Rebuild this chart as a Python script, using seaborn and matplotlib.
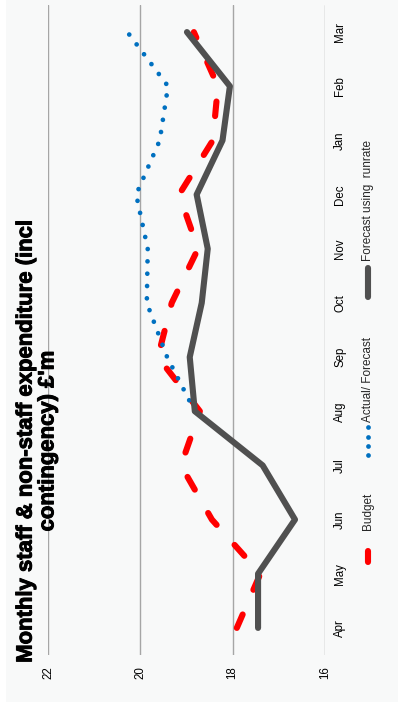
import numpy as np
import pandas as pd
import matplotlib
matplotlib.use("Agg")
import matplotlib.pyplot as plt
import matplotlib.patheffects as pe
from matplotlib import font_manager
import seaborn as sns
from matplotlib.lines import Line2D
from matplotlib.patches import Rectangle

# ---------------- data ----------------
months = ["Apr", "May", "Jun", "Jul", "Aug", "Sep", "Oct", "Nov", "Dec", "Jan", "Feb", "Mar"]
budget = [17.91, 17.40, 18.45, 19.12, 18.71, 19.62, 19.32, 18.75, 19.16, 18.43, 18.32, 18.84]
actual_forecast = [np.nan, np.nan, np.nan, np.nan, 18.82, 19.42, 19.86, 19.84, 20.09, 19.58, 19.40, 20.28]
runrate = [17.45, 17.45, 16.65, 17.35, 18.82, 18.93, 18.67, 18.54, 18.78, 18.22, 18.06, 18.99]
value_ticks = [16, 18, 20, 22]
legend_labels = ["Budget", "Actual/ Forecast", "Forecast using  runrate"]
title = "Monthly staff & non-staff expenditure (incl\ncontingency) \u00a3'm"

# ---------------- style ----------------
sns.set_style("white")
plt.rcParams["font.family"] = ["Liberation Sans", "DejaVu Sans"]

# pick a family that really has a bold face for the title
title_family = "Liberation Sans"
for fam in ["Liberation Sans", "Roboto", "Noto Sans", "Open Sans", "DejaVu Sans"]:
    try:
        path = font_manager.findfont(font_manager.FontProperties(family=fam, weight="bold"),
                                     fallback_to_default=False)
        if "bold" in path.lower():
            title_family = fam
            break
    except Exception:
        pass

W, H = 398, 707
BG = "#f8f9f9"
RED = "#ff0000"
BLUE = "#0070c0"
GRAY = "#505050"
GRID = "#a6a6a6"

def fx(px):
    return px / W

def fy(py):
    return 1 - py / H

fig = plt.figure(figsize=(W / 100, H / 100), dpi=100)
fig.patch.set_facecolor("white")
fig.add_artist(Rectangle((fx(6), fy(702)), 1 - fx(6), 702 / H,
                         transform=fig.transFigure, facecolor=BG, edgecolor="none", zorder=0))

ax = fig.add_axes([fx(48), fy(655), (325 - 48) / W, (655 - 5) / H])
ax.set_facecolor(BG)

df = pd.DataFrame({
    "idx": np.arange(len(months)),
    "month": months,
    "budget": budget,
    "actual": actual_forecast,
    "runrate": runrate,
})

sns.lineplot(data=df, x="budget", y="idx", orient="y", ax=ax, color=RED,
             lw=4.4, linestyle=(0, (2.4, 4.4)), dash_capstyle="round", zorder=3)
sns.lineplot(data=df.dropna(subset=["actual"]), x="actual", y="idx", orient="y", ax=ax,
             color=BLUE, lw=3.4, linestyle=(0, (0.01, 2.6)), dash_capstyle="round", zorder=4)
sns.lineplot(data=df, x="runrate", y="idx", orient="y", ax=ax, color=GRAY,
             lw=4.4, solid_capstyle="round", solid_joinstyle="round", zorder=5)

ax.set_xlim(22, 16)
ax.set_ylim(-0.5, len(months) - 0.5)
ax.set_xticks(value_ticks)
ax.set_xticklabels([str(v) for v in value_ticks])
ax.set_yticks(df["idx"])
ax.set_yticklabels(months)
ax.yaxis.tick_right()
ax.set_xlabel("")
ax.set_ylabel("")
ax.grid(axis="x", color=GRID, lw=1.0)
ax.grid(axis="y", visible=False)
for s in ax.spines.values():
    s.set_visible(False)
ax.tick_params(axis="x", length=0, pad=8.0, labelsize=8.3, labelrotation=90, colors="black")
ax.tick_params(axis="y", length=0, pad=6.5, labelsize=8.3, labelrotation=90, colors="black")
for lab in ax.get_yticklabels():
    lab.set_va("center")
    lab.set_ha("left")
ax.set_axisbelow(True)

# ---------------- title ----------------
fig.text(fx(37), fy(441), title, rotation=90, ha="center", va="center",
         fontsize=15.9, fontweight="bold", family=[title_family, "DejaVu Sans"],
         color="black", multialignment="center", linespacing=1.05,
         path_effects=[pe.withStroke(linewidth=0.7, foreground="black")])

# ---------------- legend (rotated) ----------------
LX = 368
fig.add_artist(Line2D([fx(LX), fx(LX)], [fy(562), fy(551)], transform=fig.transFigure,
                      color=RED, lw=4.4, solid_capstyle="round"))
fig.text(fx(LX), fy(530), legend_labels[0], rotation=90, ha="center", va="bottom", fontsize=8.5)
fig.add_artist(Line2D([fx(LX)] * 4, [fy(455), fy(446), fy(437), fy(427)], transform=fig.transFigure,
                      color=BLUE, lw=0, marker="o", markersize=3.4, markeredgewidth=0))
fig.text(fx(LX), fy(422), legend_labels[1], rotation=90, ha="center", va="bottom", fontsize=8.5)
fig.add_artist(Line2D([fx(LX), fx(LX)], [fy(297), fy(268)], transform=fig.transFigure,
                      color=GRAY, lw=4.4, solid_capstyle="round"))
fig.text(fx(LX), fy(261), legend_labels[2], rotation=90, ha="center", va="bottom", fontsize=8.5)

fig.savefig("out.png", dpi=100, facecolor="white")
